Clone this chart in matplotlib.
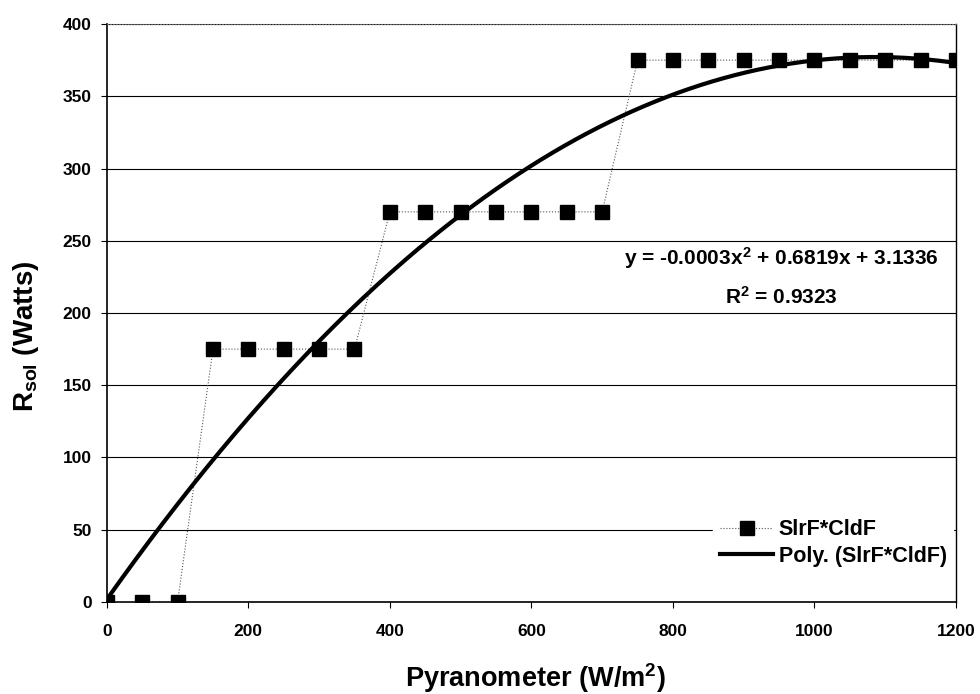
import matplotlib.pyplot as plt
import numpy as np

plt.rcParams['font.family'] = ['Liberation Sans', 'DejaVu Sans']
plt.rcParams['font.weight'] = 'bold'
plt.rcParams['mathtext.fontset'] = 'custom'
plt.rcParams['mathtext.rm'] = 'Liberation Sans:bold'
plt.rcParams['mathtext.bf'] = 'Liberation Sans:bold'
plt.rcParams['mathtext.it'] = 'Liberation Sans:bold'

# datos
pyran = [0, 50, 100, 150, 200, 250, 300, 350, 400, 450, 500, 550, 600, 650,
         700, 750, 800, 850, 900, 950, 1000, 1050, 1100, 1150, 1200]
rsol = [0, 0, 0, 175, 175, 175, 175, 175, 270, 270, 270, 270, 270, 270,
        270, 375, 375, 375, 375, 375, 375, 375, 375, 375, 375]
x_ticks = [0, 200, 400, 600, 800, 1000, 1200]
y_ticks = [0, 50, 100, 150, 200, 250, 300, 350, 400]

fig = plt.figure(figsize=(9.8, 6.94), dpi=100)
ax = fig.add_axes([0.109, 0.1326, 0.8665, 0.8328])

ax.plot(pyran, rsol, linestyle=':', color='#555555', linewidth=0.8,
        marker='s', markersize=10.5, markerfacecolor='black',
        markeredgecolor='black', label='SlrF*CldF', zorder=3)

# regresión polinomial
coeff = np.polyfit(pyran, rsol, 2)
poly = np.poly1d(coeff)
xs = np.linspace(0, 1200, 300)
ax.plot(xs, poly(xs), color='black', linewidth=3,
        label='Poly. (SlrF*CldF)', zorder=4)

ax.set_xlim(0, 1200)
ax.set_ylim(0, 400)
ax.set_xticks(x_ticks)
ax.set_yticks(y_ticks)
ax.tick_params(axis='both', labelsize=12.5, direction='out', length=4)
ax.tick_params(axis='x', pad=12)
ax.tick_params(axis='y', pad=7)
ax.yaxis.grid(True, color='black', linewidth=0.8)
ax.set_axisbelow(True)

ax.spines['top'].set_linestyle(':')
ax.spines['top'].set_color('#666666')
ax.spines['right'].set_linewidth(1.0)
ax.spines['left'].set_linewidth(1.2)
ax.spines['bottom'].set_linewidth(1.2)

ax.set_xlabel(r'Pyranometer (W/m$^{2}$)', fontsize=19.5, fontweight='bold',
              va='top')
ax.xaxis.set_label_coords(0.505, -0.103)
ax.set_ylabel(r'R$_{\mathrm{sol}}$ (Watts)', fontsize=20, fontweight='bold')
ax.yaxis.set_label_coords(-0.077, 0.46)

ax.text(954, 238, 'y = -0.0003x$^{2}$ + 0.6819x + 3.1336',
        ha='center', va='center', fontsize=15, fontweight='bold')
ax.text(954, 211, 'R$^{2}$ = 0.9323',
        ha='center', va='center', fontsize=15, fontweight='bold')

leg = ax.legend(loc='lower right', bbox_to_anchor=(0.997, 0.05), fontsize=15.5,
                frameon=True, fancybox=False, framealpha=1, edgecolor='white',
                borderaxespad=0, borderpad=0.3, labelspacing=0.25,
                handlelength=2.5, handletextpad=0.25)
for t in leg.get_texts():
    t.set_fontweight('bold')

fig.savefig('out.png', dpi=100)
